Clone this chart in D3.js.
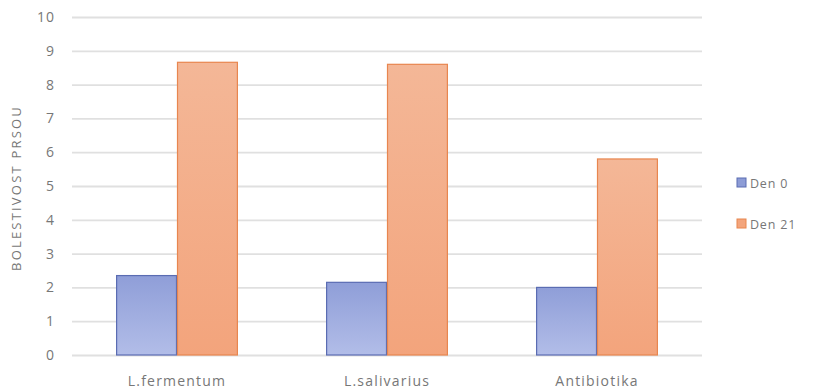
<!DOCTYPE html>
<html>
<head>
<meta charset="utf-8">
<script src="https://cdn.jsdelivr.net/npm/d3@7"></script>
<style>
  html, body { margin: 0; padding: 0; background: #fff; }
  svg { display: block; }
</style>
</head>
<body>
<svg id="chart" width="814" height="392"></svg>
<script>
// Bolestivost prsou: skupiny léčby, den 0 vs. den 21
const categories = ["L.fermentum", "L.salivarius", "Antibiotika"];
const seriesNames = ["Den 0", "Den 21"];
const den0 = [2.35, 2.15, 2.0];
const den21 = [8.66, 8.6, 5.8];
const yTicks = [0, 1, 2, 3, 4, 5, 6, 7, 8, 9, 10];
const yTitle = "BOLESTIVOST PRSOU";

const svg = d3.select("#chart");
const W = 814, H = 392;
const m = { left: 72, right: 112, top: 17, bottom: 37 };
const plotW = W - m.left - m.right;
const plotH = H - m.top - m.bottom;
const FONT = "Open Sans, sans-serif";
const TXT = "#777";

const defs = svg.append("defs");
const gradBlue = defs.append("linearGradient").attr("id", "gBlue")
  .attr("x1", 0).attr("y1", 0).attr("x2", 0).attr("y2", 1);
gradBlue.append("stop").attr("offset", "0%").attr("stop-color", "#8f9ed8");
gradBlue.append("stop").attr("offset", "100%").attr("stop-color", "#b2bde8");
const gradOrange = defs.append("linearGradient").attr("id", "gOrange")
  .attr("x1", 0).attr("y1", 0).attr("x2", 0).attr("y2", 1);
gradOrange.append("stop").attr("offset", "0%").attr("stop-color", "#f4b797");
gradOrange.append("stop").attr("offset", "100%").attr("stop-color", "#f3a47c");

const fills = ["url(#gBlue)", "url(#gOrange)"];
const strokes = ["#5a6cb2", "#e8864f"];
const swatch = ["#8d9cd6", "#f3a57d"];

const g = svg.append("g").attr("transform", `translate(${m.left},${m.top})`);

const x = d3.scaleBand().domain(categories).range([0, plotW]).paddingInner(0.42).paddingOuter(0.21);
const xs = d3.scaleBand().domain(seriesNames).range([0, x.bandwidth()]);
const y = d3.scaleLinear().domain([0, 10]).range([plotH, 0]);

// vodorovná mřížka
const yAxis = d3.axisLeft(y).tickValues(yTicks).tickSize(-plotW).tickFormat(d3.format("d")).tickPadding(17);
const ya = g.append("g").call(yAxis);
ya.select(".domain").remove();
ya.selectAll(".tick line").attr("stroke", "#e0e0e0").attr("stroke-width", 1.8);
ya.selectAll(".tick text").attr("fill", TXT).attr("font-family", FONT).attr("font-size", 14)
  .attr("letter-spacing", 1);

// sloupce
const data = categories.map((c, i) => ({ cat: c, vals: [den0[i], den21[i]] }));
const grp = g.selectAll(".grp").data(data).join("g")
  .attr("transform", d => `translate(${x(d.cat)},0)`);
grp.selectAll("rect").data(d => d.vals.map((v, j) => ({ v, j })))
  .join("rect")
  .attr("x", d => xs(seriesNames[d.j]) + 0.5)
  .attr("width", xs.bandwidth() - 1)
  .attr("y", d => y(d.v))
  .attr("height", d => plotH - y(d.v))
  .attr("fill", d => fills[d.j])
  .attr("stroke", d => strokes[d.j])
  .attr("stroke-width", 1.2);

// popisky kategorií
const xAxis = d3.axisBottom(x).tickSize(0).tickPadding(21);
const xa = g.append("g").attr("transform", `translate(0,${plotH})`).call(xAxis);
xa.select(".domain").remove();
xa.selectAll(".tick text").attr("fill", TXT).attr("font-family", FONT).attr("font-size", 14)
  .attr("letter-spacing", 1.2);

// název osy Y
svg.append("text")
  .attr("transform", `translate(21,${m.top + plotH / 2 + 2}) rotate(-90)`)
  .attr("text-anchor", "middle")
  .attr("fill", TXT)
  .attr("font-family", FONT)
  .attr("font-size", 13)
  .attr("letter-spacing", 2.2)
  .text(yTitle);

// legenda
const lg = svg.append("g").attr("transform", "translate(737,0)");
const legY = [183, 224];
seriesNames.forEach((s, i) => {
  lg.append("rect").attr("x", 0).attr("y", legY[i] - 5).attr("width", 9).attr("height", 9)
    .attr("fill", swatch[i]).attr("stroke", strokes[i]).attr("stroke-width", 1);
  lg.append("text").attr("x", 13).attr("y", legY[i] + 4.5)
    .attr("fill", TXT).attr("font-family", FONT).attr("font-size", 12.5)
    .attr("letter-spacing", 0.8)
    .text(s);
});
</script>
</body>
</html>
